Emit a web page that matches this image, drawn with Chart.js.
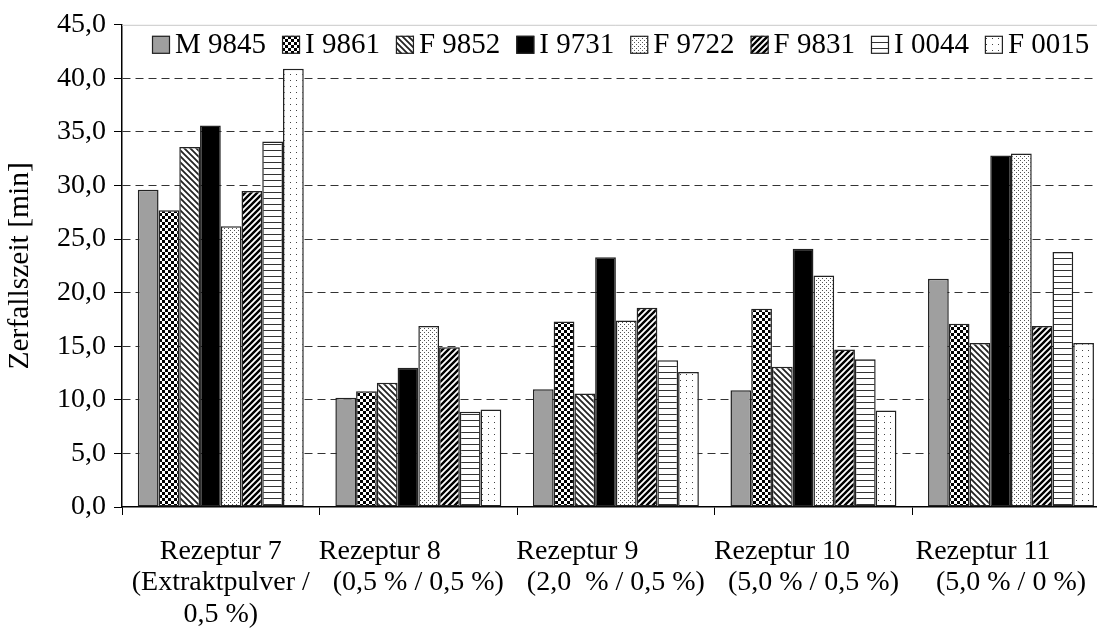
<!DOCTYPE html>
<html>
<head>
<meta charset="utf-8">
<script src="https://cdn.jsdelivr.net/npm/chart.js@4/dist/chart.umd.min.js"></script>
<style>
  html, body { margin: 0; padding: 0; background: #fff; overflow: hidden; }
  #wrap { position: absolute; left: 0; top: 0; width: 1128px; height: 633px; }
</style>
</head>
<body>
<div id="wrap"><canvas id="zerfall"></canvas></div>
<script>
// Rezepturen (x-Achse)
const rezepturen = [
    ['Rezeptur 7', '(Extraktpulver /', '0,5 %)'],
    ['Rezeptur 8           ', '(0,5 % / 0,5 %)'],
    ['Rezeptur 9           ', '(2,0  % / 0,5 %)'],
    ['Rezeptur 10         ', '(5,0 % / 0,5 %)'],
    ['Rezeptur 11        ', '(5,0 % / 0 %)']
];

const chargen = ['M 9845', 'I 9861', 'F 9852', 'I 9731', 'F 9722', 'F 9831', 'I 0044', 'F 0015'];

// Zerfallszeit [min]
const m9845 = [29.6, 10.2, 11.0, 10.9, 21.3];
const i9861 = [27.7, 10.8, 17.3, 18.5, 17.1];
const f9852 = [33.6, 11.6, 10.6, 13.1, 15.3];
const i9731 = [35.6, 13.0, 23.3, 24.1, 32.8];
const f9722 = [26.2, 16.9, 17.4, 21.6, 33.0];
const f9831 = [29.5, 14.9, 18.6, 14.7, 16.9];
const i0044 = [34.1, 8.9, 13.7, 13.8, 23.8];
const f0015 = [40.9, 9.1, 12.6, 9.0, 15.3];

const yMin = 0, yMax = 45, yStep = 5;

var ctx = document.querySelector('#zerfall');
var c2d = ctx.getContext('2d');

function muster(w, h, draw) {
    let c = document.createElement('canvas');
    c.width = w; c.height = h;
    let g = c.getContext('2d');
    g.fillStyle = '#fff';
    g.fillRect(0, 0, w, h);
    draw(g);
    return c2d.createPattern(c, 'repeat');
}

// Fuellmuster wie im Excel-Diagramm
const fuellung = [
    '#9f9f9f',
    muster(6, 6, function (g) {
        g.fillStyle = '#000';
        g.fillRect(0, 0, 3, 3);
        g.fillRect(3, 3, 3, 3);
    }),
    muster(6, 6, function (g) {
        g.strokeStyle = '#222';
        g.lineWidth = 1.8;
        g.beginPath();
        g.moveTo(-1, -1); g.lineTo(7, 7);
        g.moveTo(-4, 2); g.lineTo(4, 10);
        g.moveTo(2, -4); g.lineTo(10, 4);
        g.stroke();
    }),
    '#000',
    muster(4, 4, function (g) {
        g.fillStyle = '#555';
        g.fillRect(0, 0, 1, 1);
        g.fillRect(2, 2, 1, 1);
    }),
    muster(6, 6, function (g) {
        g.strokeStyle = '#000';
        g.lineWidth = 2.4;
        g.beginPath();
        g.moveTo(-1, 7); g.lineTo(7, -1);
        g.moveTo(-4, 4); g.lineTo(4, -4);
        g.moveTo(2, 10); g.lineTo(10, 2);
        g.stroke();
    }),
    muster(6, 6, function (g) {
        g.fillStyle = '#333';
        g.fillRect(0, 0, 6, 1);
    }),
    muster(6, 6, function (g) {
        g.fillStyle = '#444';
        g.fillRect(2, 2, 1, 1);
    })
];

const werte = [m9845, i9861, f9852, i9731, f9722, f9831, i0044, f0015];

var datasets = chargen.map(function (name, i) {
    return {
        label: name,
        data: werte[i],
        backgroundColor: fuellung[i],
        borderColor: '#222',
        borderWidth: 1.5,
        borderSkipped: false,
        categoryPercentage: 0.84,
        barPercentage: 1.0
    };
});

const schrift = 'Liberation Serif, Times New Roman, serif';
const groesse = 28;

// obere Rahmenlinie des Plotbereichs (hellgrau)
const rahmen = {
    id: 'rahmen',
    afterDraw(chart) {
        const a = chart.chartArea;
        const g = chart.ctx;
        g.save();
        g.strokeStyle = '#c8c8c8';
        g.lineWidth = 1;
        g.beginPath();
        g.moveTo(a.left, a.top + 0.5);
        g.lineTo(a.right, a.top + 0.5);
        g.stroke();
        g.restore();
    }
};

// Legende in einer Zeile innerhalb des Plotbereichs
const legende = {
    id: 'legende',
    afterDatasetsDraw(chart) {
        const a = chart.chartArea;
        const g = chart.ctx;
        const box = 18, luecke = 5, abstand = 16;
        g.save();
        g.font = '29px ' + schrift;
        g.textBaseline = 'middle';
        g.textAlign = 'left';
        let x = a.left + 30;
        const ym = a.top + 20;
        chart.data.datasets.forEach(function (ds) {
            g.fillStyle = ds.backgroundColor;
            g.fillRect(x, ym - box / 2, box, box);
            g.strokeStyle = '#222';
            g.lineWidth = 1.2;
            g.strokeRect(x + 0.5, ym - box / 2 + 0.5, box - 1, box - 1);
            g.fillStyle = '#000';
            g.fillText(ds.label, x + box + luecke, ym + 1);
            x += box + luecke + g.measureText(ds.label).width + abstand;
        });
        g.restore();
    }
};

new Chart(ctx, {
    type: 'bar',
    data: {
        labels: rezepturen,
        datasets: datasets
    },
    options: {
        responsive: true,
        maintainAspectRatio: false,
        animation: false,
        layout: { padding: { left: 0, right: 5, top: 23, bottom: 0 } },
        plugins: {
            tooltip: { enabled: false },
            legend: { display: false }
        },
        scales: {
            x: {
                grid: {
                    offset: true,
                    drawOnChartArea: false,
                    drawTicks: true,
                    tickLength: 8,
                    tickColor: '#000',
                    tickWidth: 1
                },
                border: { display: true, color: '#000', width: 1.5 },
                ticks: {
                    color: '#000',
                    font: { family: schrift, size: groesse, lineHeight: 1.12 },
                    padding: 21,
                    maxRotation: 0,
                    autoSkip: false
                },
                afterFit: function (scale) { scale.height = 126; }
            },
            y: {
                min: yMin,
                max: yMax,
                grid: {
                    color: function (c) {
                        if (c.tick.value === yMax || c.tick.value === yMin) return 'rgba(0,0,0,0)';
                        return '#333';
                    },
                    lineWidth: 1,
                    drawTicks: true,
                    tickLength: 8,
                    tickColor: '#000',
                    tickWidth: 1,
                    tickBorderDash: []
                },
                border: { display: true, color: '#000', width: 1.5, dash: [8, 5] },
                ticks: {
                    stepSize: yStep,
                    color: '#000',
                    font: { family: schrift, size: groesse },
                    padding: 8,
                    callback: function (v) { return v.toFixed(1).replace('.', ','); }
                },
                title: {
                    display: true,
                    text: 'Zerfallszeit [min]',
                    color: '#000',
                    font: { family: schrift, size: 29.5 },
                    padding: { top: 3, bottom: 2 }
                },
                afterFit: function (scale) { scale.width = 122; }
            }
        }
    },
    plugins: [rahmen, legende]
});
</script>
</body>
</html>
